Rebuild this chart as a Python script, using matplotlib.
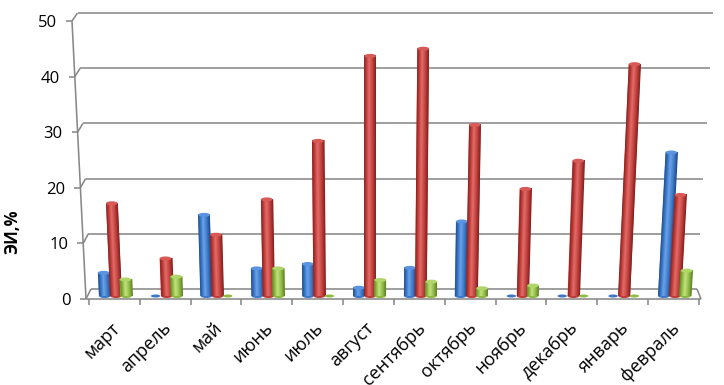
import numpy as np
import matplotlib
matplotlib.use('Agg')
import matplotlib.pyplot as plt
from matplotlib.patches import Ellipse
from matplotlib.transforms import Affine2D
from matplotlib.colors import LinearSegmentedColormap

# ---------------- data ----------------
months = ['март', 'апрель', 'май', 'июнь', 'июль', 'август', 'сентябрь',
          'октябрь', 'ноябрь', 'декабрь', 'январь', 'февраль']
series_blue = [4.2, 0, 14.7, 5.0, 5.8, 1.5, 5.1, 13.5, 0, 0, 0, 26.0]
series_red = [16.8, 6.8, 11.1, 17.5, 28.1, 43.5, 44.8, 31.0, 19.4, 24.5, 42.0, 18.3]
series_green = [3.0, 3.5, 0, 5.0, 0, 2.9, 2.6, 1.4, 1.9, 0, 0, 4.6]
y_ticks = [0, 10, 20, 30, 40, 50]
y_label = 'ЭИ,%'

# ---------------- style / geometry ----------------
plt.rcParams['font.family'] = ['Open Sans', 'DejaVu Sans']
W, H = 724, 385
CAT = 50.83      # px per category
X0 = 89.0        # px of left floor edge (category -0.5)
BASE = 296.0     # px (from top) of value 0 at bar depth
UNIT = 5.52      # px per value unit
GRID = '#888888'
LW = 1.15

fig = plt.figure(figsize=(W / 100, H / 100), dpi=100)
ax = fig.add_axes([0, 0, 1, 1])
ax.axis('off')


def px2d(px, py):
    return -0.5 + (px - X0) / CAT, (BASE - py) / UNIT


def front(v):   # front vertical axis point (px)
    return 86 - 0.28 * v, 299 - 5.56 * v


def back_left(v):
    return 91 - 0.27 * v, 289 - 5.52 * v


def back_right(v):
    return 697 + 0.32 * v, 289 - 5.52 * v


def line_px(p, q, **kw):
    a = px2d(*p)
    b = px2d(*q)
    ax.plot([a[0], b[0]], [a[1], b[1]], color=GRID, lw=LW,
            solid_capstyle='butt', zorder=1, **kw)


ymax = max(y_ticks)
# front vertical axis
line_px(front(0), front(ymax))
for v in y_ticks:
    fx, fy = front(v)
    line_px((fx - 6, fy), (fx, fy))                 # tick
    line_px((fx, fy), back_left(v))                 # depth connector
    line_px(back_left(v), back_right(v))            # gridline on back wall
    lx, ly = px2d(fx - 15, fy + 2)
    ax.text(lx, ly, str(v), ha='right', va='center', fontsize=12, color='black')

# floor
fr = (701, 299)
line_px(front(0), fr)
line_px(back_right(0), fr)
for i in range(len(months) + 1):
    px = X0 + CAT * i
    line_px((px, 299), (px, 305))

# ---------------- cylinders ----------------
XC = -0.5 + (368 - X0) / CAT      # perspective centre (data x)
K = 1.75e-4 * UNIT
offsets = [-0.19, 0.03, 0.23]
width = 0.23
palettes = [
    ['#24508c', '#3a76c6', '#6aa3ea', '#3b77c6', '#1f477e'],
    ['#8a2220', '#c03e3b', '#e36d69', '#bd3c39', '#7f1f1d'],
    ['#67872a', '#8fbb44', '#c2e37f', '#8cb842', '#5f7d26'],
]
tops = ['#5a93e0', '#d85a56', '#b0d66a']
all_series = [series_blue, series_red, series_green]
x = np.arange(len(months))
grad = np.linspace(0, 1, 64)[None, :]
cap_h = 4.0 / UNIT

for j, (vals, pal) in enumerate(zip(all_series, palettes)):
    cmap = LinearSegmentedColormap.from_list(
        f's{j}', list(zip([0, 0.2, 0.42, 0.75, 1.0], pal)))
    z = 3 + j
    xs = x + offsets[j]
    bars = ax.bar(xs, vals, width=width, color=pal[1], zorder=z, linewidth=0)
    for rect, xc, v in zip(bars.patches, xs, vals):
        s = K * (xc - XC)
        shear = Affine2D(np.array([[1, s, 0], [0, 1, 0], [0, 0, 1]], float))
        tr = shear + ax.transData
        rect.set_transform(tr)
        if v > 0:
            ax.imshow(grad, extent=(xc - width / 2, xc + width / 2, 0, v),
                      cmap=cmap, aspect='auto', interpolation='bilinear',
                      transform=tr, zorder=z + 0.1)
            ax.add_patch(Ellipse((xc, 0), width, cap_h, color=pal[3],
                                 zorder=z - 0.05, lw=0))
            ax.add_patch(Ellipse((xc + s * v, v), width, cap_h, color=tops[j],
                                 zorder=z + 0.2, lw=0))
        else:
            ax.add_patch(Ellipse((xc, 0), width * 0.8, 3.0 / UNIT, color=pal[1],
                                 zorder=z + 0.2, lw=0))

# ---------------- category labels ----------------
for i, m in enumerate(months):
    lx, ly = px2d(X0 + CAT * (i + 0.5) + 3, 325)
    ax.text(lx, ly, m, rotation=45, rotation_mode='anchor', ha='right',
            va='center', fontsize=13, color='black')

# y label
lx, ly = px2d(12, 232)
ax.text(lx, ly, y_label, rotation=90, ha='center', va='center', fontsize=12,
        fontweight='bold', color='black')

ax.set_xlim(-0.5 - X0 / CAT, -0.5 + (W - X0) / CAT)
ax.set_ylim((BASE - H) / UNIT, BASE / UNIT)

fig.savefig('out.png', dpi=100)
